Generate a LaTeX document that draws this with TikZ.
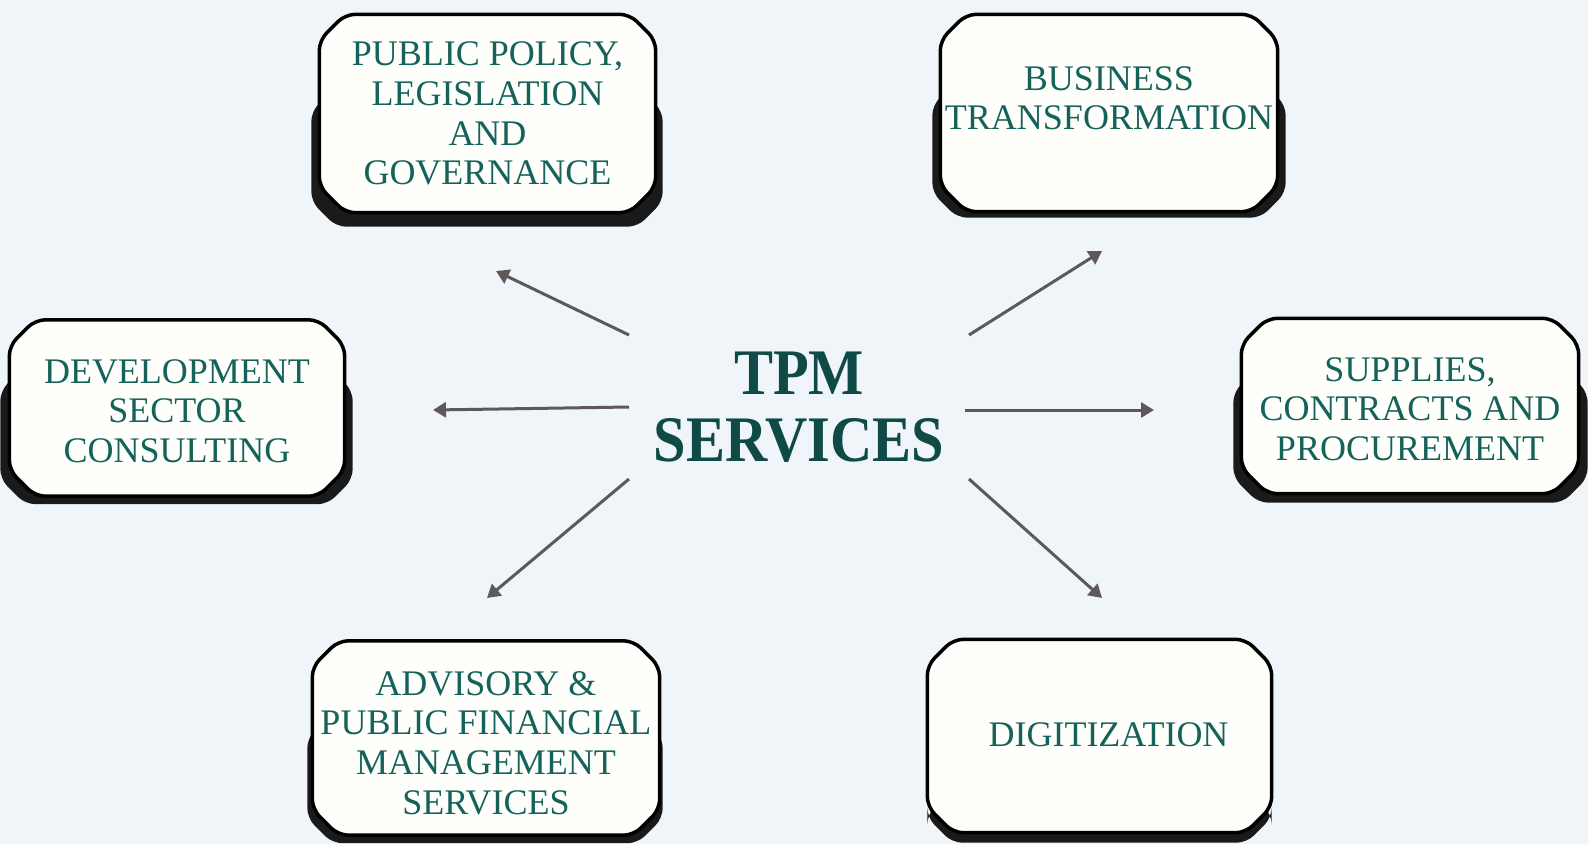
\documentclass[tikz,border=0pt]{standalone}
\usepackage{fontspec}
\setmainfont{Liberation Serif}
\newfontfamily\titlefont[FakeStretch=0.9]{Liberation Serif Bold}
\usetikzlibrary{arrows.meta,calc,backgrounds}
\definecolor{bg}{HTML}{F0F5F9}
\definecolor{boxfill}{HTML}{FEFEFB}
\definecolor{txt}{HTML}{15625A}
\definecolor{ttl}{HTML}{104A47}
\definecolor{arr}{HTML}{5E5859}
\definecolor{shd}{HTML}{1A1A1A}
\newcommand\chamf[3]{($(#1)+(#3,0)$) -- ($(#2 |- #1)+(-#3,0)$) -- ($(#2 |- #1)+(0,#3)$) -- ($(#2)+(0,-#3)$) -- ($(#2)+(-#3,0)$) -- ($(#1 |- #2)+(#3,0)$) -- ($(#1 |- #2)+(0,-#3)$) -- ($(#1)+(0,#3)$) -- cycle}
\tikzset{
  box/.style={rectangle, draw=none, align=center, inner sep=0pt,
    font=\fontsize{36}{39.7}\selectfont, text=txt},
  boxline/.style={draw=black, line width=3.5pt, fill=boxfill, rounded corners=10pt},
  boxshadow/.style={fill=shd, rounded corners=10pt},
  arrowline/.style={draw=arr, line width=3pt, -{Triangle[length=13pt,width=15pt]}},
  titletext/.style={font=\titlefont\fontsize{65}{67}\selectfont, text=ttl, align=center, inner sep=0pt}
}
\begin{document}
\begin{tikzpicture}[x=1pt,y=-1pt]
\useasboundingbox (0,0) rectangle (1588,844);

\node[box, minimum width=336pt, minimum height=198pt] (pub) at (487.5,113.5)
  {PUBLIC POLICY,\\LEGISLATION\\AND\\GOVERNANCE};
\node[box, minimum width=337pt, minimum height=197pt] (bus) at (1109,113)
  {BUSINESS\\TRANSFORMATION\\[-10pt]\mbox{}};
\node[box, minimum width=335pt, minimum height=176pt] (dev) at (177,411)
  {DEVELOPMENT\\SECTOR\\CONSULTING};
\node[box, minimum width=337pt, minimum height=175pt] (sup) at (1410,409)
  {SUPPLIES,\\CONTRACTS AND\\PROCUREMENT};
\node[box, minimum width=347pt, minimum height=194pt] (adv) at (486,743)
  {ADVISORY \&\\PUBLIC FINANCIAL\\MANAGEMENT\\SERVICES};
\node[box, minimum width=344pt, minimum height=193pt] (dig) at (1099.5,735)
  {\hspace*{18pt}DIGITIZATION};

\begin{scope}[on background layer]
\fill[bg] (0,0) rectangle (1588,844);
\foreach \n/\l/\r/\t/\b/\d in {pub/8/7/72/14/0, bus/8/8/66/6/0, dev/9/8/46/8/3, sup/8/9/49/9/3, adv/5/3/72/8/5, dig/0/0/150/10/-1}{
  \coordinate (\n-nw) at ($(\n.north west)+(0,-\d)$);
  \coordinate (\n-se) at ($(\n.south east)+(0,-\d)$);
  \coordinate (\n-snw) at ($(\n-nw)+(-\l,\t)$);
  \coordinate (\n-sse) at ($(\n-se)+(\r,\b)$);
  \fill[boxshadow] \chamf{\n-snw}{\n-sse}{25};
  \filldraw[boxline] \chamf{\n-nw}{\n-se}{26};
}
\end{scope}

\node[titletext] (tpm) at (799,407) {TPM\\SERVICES};

\coordinate (a1s) at (629,335); \coordinate (a1e) at (496,271);
\coordinate (a2s) at (969,335); \coordinate (a2e) at (1102,251);
\coordinate (a3s) at (629,407); \coordinate (a3e) at (433,410);
\coordinate (a4s) at (965,410); \coordinate (a4e) at (1154,410);
\coordinate (a5s) at (629,479); \coordinate (a5e) at (487,598);
\coordinate (a6s) at (969,479); \coordinate (a6e) at (1102,598);
\foreach \i in {1,...,6}{\draw[arrowline] (a\i s) -- (a\i e);}
\end{tikzpicture}
\end{document}
